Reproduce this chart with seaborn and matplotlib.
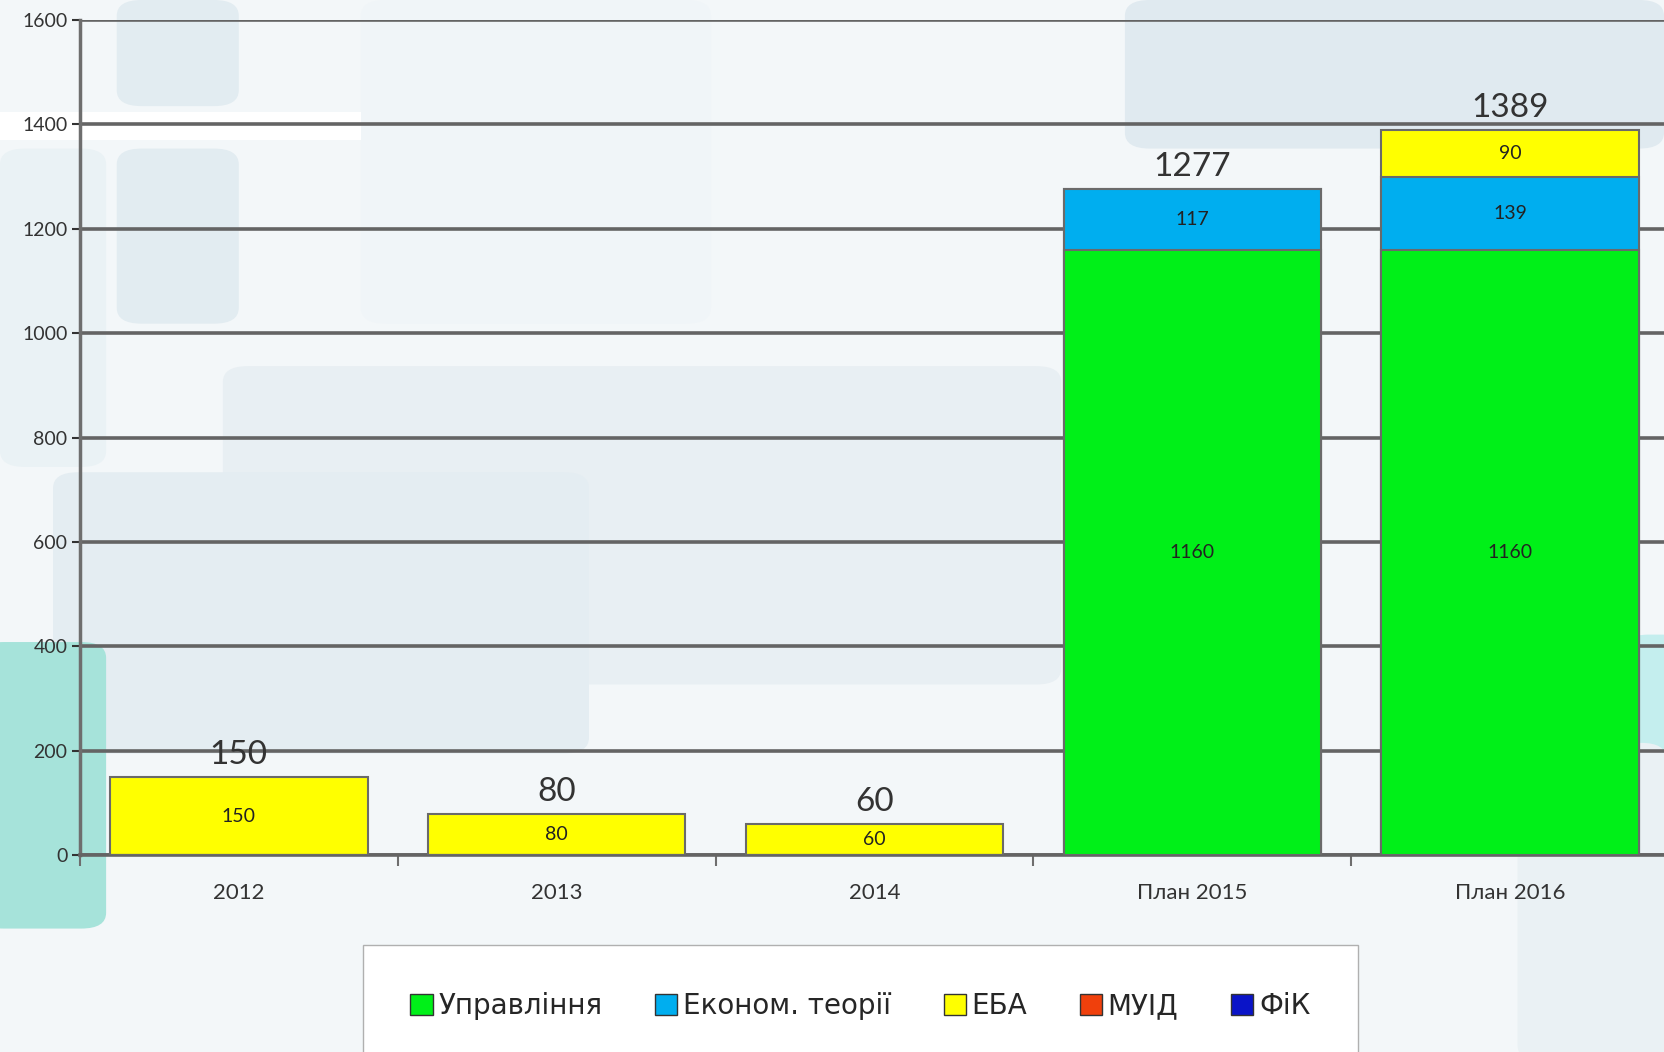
import numpy as np
import pandas as pd
import matplotlib.pyplot as plt
import seaborn as sns
from matplotlib.patches import FancyBboxPatch, Patch

# ---- data ----
years = ['2012', '2013', '2014', 'План 2015', 'План 2016']
upravl = [0, 0, 0, 1160, 1160]      # Управління
ekonom = [0, 0, 0, 117, 139]        # Економ. теорії
eba = [150, 80, 60, 0, 90]          # ЕБА
muid = [0, 0, 0, 0, 0]              # МУІД
fik = [0, 0, 0, 0, 0]               # ФіК
series_names = ['Управління', 'Економ. теорії', 'ЕБА', 'МУІД', 'ФіК']
series_colors = ['#00f018', '#00aeef', '#ffff00', '#f0400c', '#0a14c8']
yticks = [0, 200, 400, 600, 800, 1000, 1200, 1400, 1600]

sns.set_theme(style='white')
plt.rcParams['font.family'] = ['Lato', 'DejaVu Sans']

W, H = 1664, 1052
fig = plt.figure(figsize=(W / 100, H / 100), dpi=100, facecolor='#f3f7f9')

# --- decorative background (rounded panels, behind the axes) ---
s = W / 1568
panels = [
    (110, 0, 115, 100, '#e2ecf1'), (110, 140, 115, 165, '#e2ecf1'),
    (340, 0, 330, 305, '#f0f5f8'), (210, 345, 790, 300, '#e8eff3'),
    (50, 445, 505, 265, '#e4edf2'), (1060, 0, 508, 140, '#e0eaf0'),
    (0, 140, 100, 300, '#eaf2f5'), (-20, 605, 120, 270, '#a6e3da'),
    (1530, 598, 60, 272, '#c4eeee'), (1430, 700, 140, 300, '#eaf1f4'),
]
for (px, py, pw, ph, col) in panels:
    fig.patches.append(FancyBboxPatch(
        (px * s / W, 1 - (py + ph) * s / H), pw * s / W, ph * s / H,
        boxstyle='round,pad=0,rounding_size=0.015', transform=fig.transFigure,
        facecolor=col, edgecolor='none', zorder=-2))
fig.patches.append(plt.Rectangle((0, 1 - 132 * s / H), 340 * s / W, 26 * s / H,
                                 transform=fig.transFigure, facecolor='white',
                                 edgecolor='none', zorder=-1))

ax = fig.add_axes([0.048, 0.187, 0.955, 0.794])
ax.set_facecolor('none')
ax.set_zorder(2)

df = pd.DataFrame({'year': years, 'upr': upravl, 'eko': ekonom, 'eba': eba})
df['cum_eko'] = df['upr'] + df['eko']
df['total'] = df['cum_eko'] + df['eba'] + np.array(muid) + np.array(fik)

edge = '#6a6a6a'
# draw cumulative heights, top layer first
sns.barplot(data=df, x='year', y='total', color=series_colors[2], saturation=1,
            width=0.81, edgecolor=edge, linewidth=1.5, ax=ax, zorder=3)
sns.barplot(data=df, x='year', y='cum_eko', color=series_colors[1], saturation=1,
            width=0.81, edgecolor=edge, linewidth=1.5, ax=ax, zorder=3)
sns.barplot(data=df, x='year', y='upr', color=series_colors[0], saturation=1,
            width=0.81, edgecolor=edge, linewidth=1.5, ax=ax, zorder=3)

# segment labels
for i in range(len(years)):
    segs = [(upravl[i], 0), (ekonom[i], upravl[i]), (eba[i], upravl[i] + ekonom[i])]
    for val, base in segs:
        if val > 0:
            ax.text(i, base + val / 2, str(val), ha='center', va='center',
                    fontsize=14, color='#222222', zorder=5)
    ax.annotate(str(df['total'][i]), (i, df['total'][i]), xytext=(0, 5),
                textcoords='offset points', ha='center', va='bottom',
                fontsize=24, color='#333333', zorder=5)

ax.set_ylim(0, 1600)
ax.set_xlim(-0.5, 4.5)
ax.set_yticks(yticks)
ax.yaxis.grid(True, color='#646464', linewidth=2.6, zorder=1)
ax.set_axisbelow(True)
ax.set_xlabel('')
ax.set_ylabel('')
for side in ['top', 'right']:
    ax.spines[side].set_visible(False)
ax.spines['left'].set_color('#6e6e6e')
ax.spines['left'].set_linewidth(2.5)
ax.spines['bottom'].set_color('#646464')
ax.spines['bottom'].set_linewidth(2.6)
ax.tick_params(axis='y', labelsize=14, colors='#333333', length=6, width=1.5,
               direction='out', left=True, pad=3)
ax.tick_params(axis='x', labelsize=16, colors='#333333', length=0, pad=20)
ax.set_xticks(np.arange(-0.5, 5, 1), minor=True)
ax.tick_params(axis='x', which='minor', length=8, width=1.5, color='#6e6e6e',
               direction='out', bottom=True)

handles = [Patch(facecolor=c, edgecolor='#333333', linewidth=1) for c in series_colors]
fig.legend(handles, series_names, loc='upper center', ncol=5,
           bbox_to_anchor=(0.517, 0.102), bbox_transform=fig.transFigure,
           frameon=True, fancybox=False, edgecolor='#b0b0b0', facecolor='white',
           framealpha=1, handlelength=0.8, handleheight=0.8,
           handletextpad=0.2, columnspacing=1.9, borderpad=1.7, borderaxespad=0,
           prop={'family': ['Liberation Sans Narrow', 'DejaVu Sans'], 'size': 20})

fig.savefig('out.png', dpi=100, facecolor=fig.get_facecolor())
